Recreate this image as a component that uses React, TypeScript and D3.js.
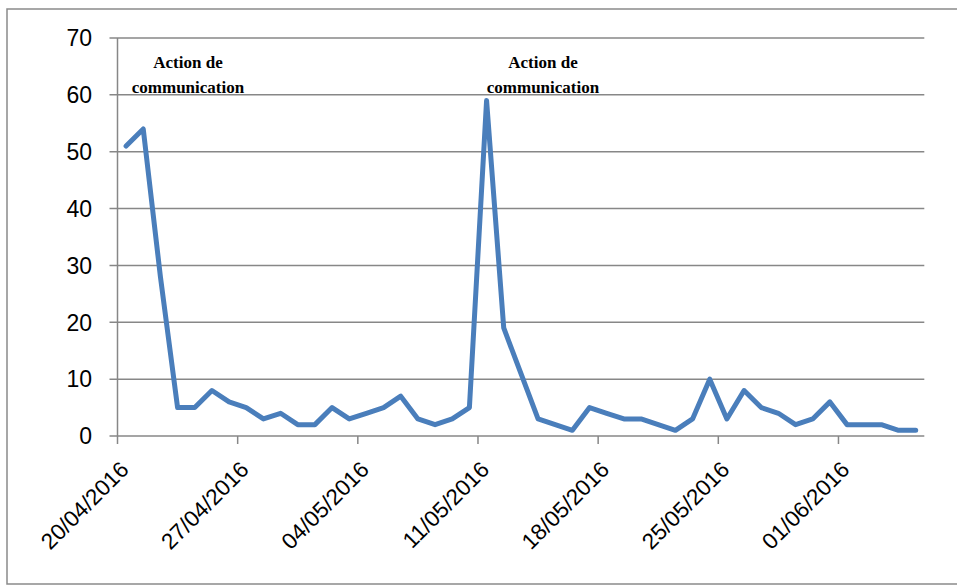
import React, { useEffect, useRef } from "react";
import * as d3 from "d3";

// daily counts, starting 20/04/2016
const startDate = Date.UTC(2016, 3, 20);
const values = [
  51, 54, 28, 5, 5, 8, 6, 5, 3, 4, 2, 2, 5, 3, 4, 5, 7, 3, 2, 3, 5, 59, 19, 11,
  3, 2, 1, 5, 4, 3, 3, 2, 1, 3, 10, 3, 8, 5, 4, 2, 3, 6, 2, 2, 2, 1, 1,
];
const yTicks = [0, 10, 20, 30, 40, 50, 60, 70];
const tickEveryDays = 7;
const annotations = [
  { lines: ["Action de", "communication"], x: 188 },
  { lines: ["Action de", "communication"], x: 543 },
];

const App = () => {
  const ref = useRef<SVGSVGElement>(null);

  useEffect(() => {
    const width = 957;
    const height = 586;
    const left = 117.5;
    const right = 924.3;
    const top = 38;
    const bottom = 436;

    const svg = d3.select(ref.current);
    svg.selectAll("*").remove();

    const start = new Date(startDate);
    const end = d3.utcDay.offset(start, values.length);
    const data = values.map((v, i) => ({
      date: d3.utcHour.offset(d3.utcDay.offset(start, i), 12),
      value: v,
    }));

    const x = d3.scaleUtc().domain([start, end]).range([left, right]);
    const y = d3.scaleLinear().domain([0, 70]).range([bottom, top]);

    const fmt = d3.utcFormat("%d/%m/%Y");
    const xTicks = d3
      .range(0, values.length, tickEveryDays)
      .map((i) => d3.utcDay.offset(start, i));

    svg.attr("width", width).attr("height", height);

    // outer frame
    svg
      .append("rect")
      .attr("x", 7)
      .attr("y", 9)
      .attr("width", 960)
      .attr("height", 575)
      .attr("fill", "white")
      .attr("stroke", "#8a8a8a")
      .attr("stroke-width", 1.5);

    // gridlines + y ticks
    svg
      .append("g")
      .selectAll("line")
      .data(yTicks)
      .join("line")
      .attr("x1", left - 8)
      .attr("x2", right)
      .attr("y1", (d) => y(d))
      .attr("y2", (d) => y(d))
      .attr("stroke", "#878787")
      .attr("stroke-width", 1.5);

    // y axis line
    svg
      .append("line")
      .attr("x1", left)
      .attr("x2", left)
      .attr("y1", top)
      .attr("y2", bottom)
      .attr("stroke", "#878787")
      .attr("stroke-width", 1.5);

    // x tick marks
    svg
      .append("g")
      .selectAll("line")
      .data(xTicks)
      .join("line")
      .attr("x1", (d) => x(d))
      .attr("x2", (d) => x(d))
      .attr("y1", bottom)
      .attr("y2", bottom + 8)
      .attr("stroke", "#878787")
      .attr("stroke-width", 1.5);

    // y labels
    svg
      .append("g")
      .selectAll("text")
      .data(yTicks)
      .join("text")
      .attr("x", 92)
      .attr("y", (d) => y(d))
      .attr("dy", "0.36em")
      .attr("text-anchor", "end")
      .attr("font-family", "Liberation Sans, Arial, sans-serif")
      .attr("font-size", 23)
      .attr("fill", "#000")
      .text((d) => d);

    // x labels
    svg
      .append("g")
      .selectAll("text")
      .data(xTicks)
      .join("text")
      .attr("transform", (d) => `translate(${x(d) + 12.5},${bottom + 35}) rotate(-45)`)
      .attr("text-anchor", "end")
      .attr("font-family", "Liberation Sans, Arial, sans-serif")
      .attr("font-size", 22.5)
      .attr("fill", "#000")
      .text((d) => fmt(d));

    // series line
    const line = d3
      .line<{ date: Date; value: number }>()
      .x((d) => x(d.date))
      .y((d) => y(d.value));

    svg
      .append("path")
      .datum(data)
      .attr("d", line)
      .attr("fill", "none")
      .attr("stroke", "#4a7ebb")
      .attr("stroke-width", 5)
      .attr("stroke-linejoin", "round")
      .attr("stroke-linecap", "round");

    // annotations
    const ann = svg
      .append("g")
      .selectAll("text")
      .data(annotations)
      .join("text")
      .attr("font-family", "Liberation Serif, Times New Roman, serif")
      .attr("font-weight", "bold")
      .attr("font-size", 17)
      .attr("text-anchor", "middle")
      .attr("fill", "#000");

    ann
      .selectAll("tspan")
      .data((d) => d.lines.map((t, i) => ({ t, i, x: d.x })))
      .join("tspan")
      .attr("x", (d) => d.x)
      .attr("y", (d) => 68 + d.i * 25)
      .text((d) => d.t);
  }, []);

  return (
    <div style={{ position: "absolute", left: 0, top: 0 }}>
      <svg ref={ref}></svg>
    </div>
  );
};

export default App;
